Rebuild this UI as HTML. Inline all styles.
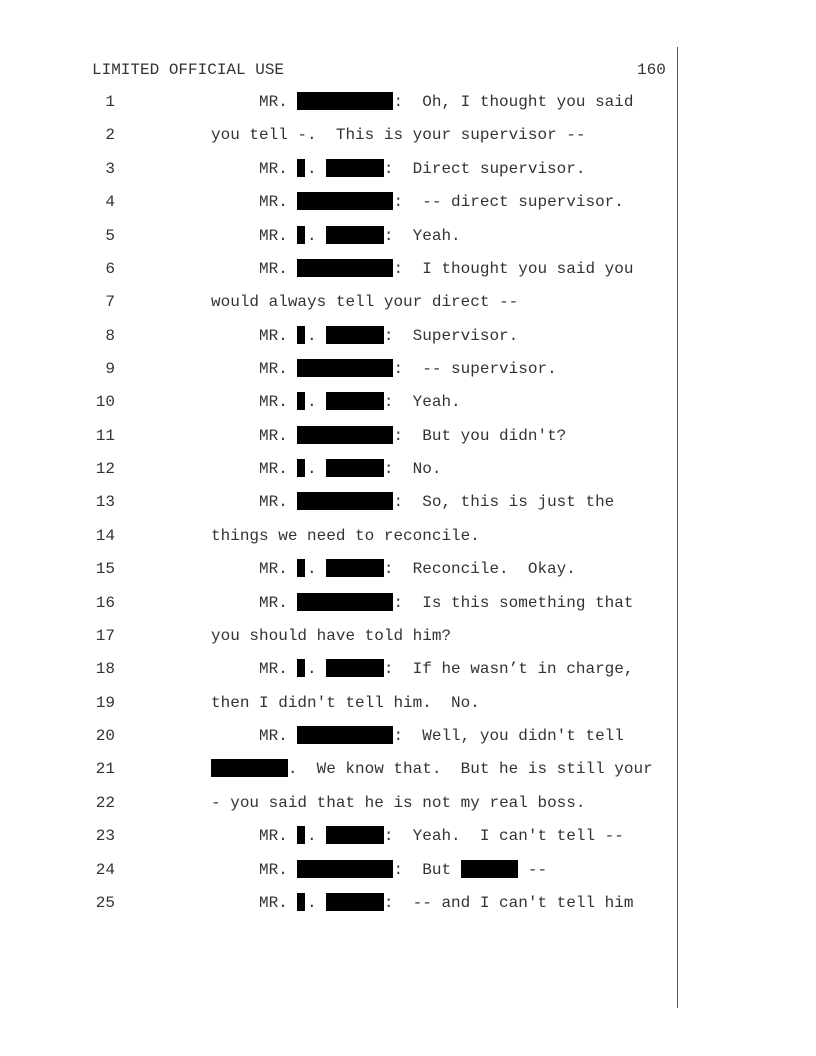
<!DOCTYPE html>
<html><head><meta charset="utf-8"><style>
body{margin:0;background:#fff;width:816px;height:1056px;position:relative;overflow:hidden}
.l{position:absolute;left:95.8px;height:20px;line-height:20px;font-family:"Liberation Mono",monospace;font-size:16px;color:#333;white-space:pre}
.b{display:inline-block;height:18px;background:#000;vertical-align:-4px}
.s{display:inline-block;width:8px;height:18px;background:#000;vertical-align:-4px;margin-right:1.6px}
.h{position:absolute;top:60px;height:20px;line-height:20px;font-family:"Liberation Mono",monospace;font-size:16px;color:#333;white-space:pre}
.v{position:absolute;left:677px;top:47px;width:1px;height:961px;background:#555}
</style></head><body>
<div class="h" style="left:92px">LIMITED OFFICIAL USE</div>
<div class="h" style="left:637px">160</div>
<div class="v"></div>
<div class="l" style="top:92px"> 1               MR. <span class="b" style="width:96px"></span>:  Oh, I thought you said</div>
<div class="l" style="top:125.4px"> 2          you tell -.  This is your supervisor --</div>
<div class="l" style="top:158.7px"> 3               MR. <span class="s"></span>. <span class="b" style="width:57.6px"></span>:  Direct supervisor.</div>
<div class="l" style="top:192.1px"> 4               MR. <span class="b" style="width:96px"></span>:  -- direct supervisor.</div>
<div class="l" style="top:225.5px"> 5               MR. <span class="s"></span>. <span class="b" style="width:57.6px"></span>:  Yeah.</div>
<div class="l" style="top:258.8px"> 6               MR. <span class="b" style="width:96px"></span>:  I thought you said you</div>
<div class="l" style="top:292.2px"> 7          would always tell your direct --</div>
<div class="l" style="top:325.6px"> 8               MR. <span class="s"></span>. <span class="b" style="width:57.6px"></span>:  Supervisor.</div>
<div class="l" style="top:359px"> 9               MR. <span class="b" style="width:96px"></span>:  -- supervisor.</div>
<div class="l" style="top:392.3px">10               MR. <span class="s"></span>. <span class="b" style="width:57.6px"></span>:  Yeah.</div>
<div class="l" style="top:425.7px">11               MR. <span class="b" style="width:96px"></span>:  But you didn't?</div>
<div class="l" style="top:459.1px">12               MR. <span class="s"></span>. <span class="b" style="width:57.6px"></span>:  No.</div>
<div class="l" style="top:492.4px">13               MR. <span class="b" style="width:96px"></span>:  So, this is just the</div>
<div class="l" style="top:525.8px">14          things we need to reconcile.</div>
<div class="l" style="top:559.2px">15               MR. <span class="s"></span>. <span class="b" style="width:57.6px"></span>:  Reconcile.  Okay.</div>
<div class="l" style="top:592.6px">16               MR. <span class="b" style="width:96px"></span>:  Is this something that</div>
<div class="l" style="top:625.9px">17          you should have told him?</div>
<div class="l" style="top:659.3px">18               MR. <span class="s"></span>. <span class="b" style="width:57.6px"></span>:  If he wasn’t in charge,</div>
<div class="l" style="top:692.7px">19          then I didn't tell him.  No.</div>
<div class="l" style="top:726px">20               MR. <span class="b" style="width:96px"></span>:  Well, you didn't tell</div>
<div class="l" style="top:759.4px">21          <span class="b" style="width:76.8px"></span>.  We know that.  But he is still your</div>
<div class="l" style="top:792.8px">22          - you said that he is not my real boss.</div>
<div class="l" style="top:826.2px">23               MR. <span class="s"></span>. <span class="b" style="width:57.6px"></span>:  Yeah.  I can't tell --</div>
<div class="l" style="top:859.5px">24               MR. <span class="b" style="width:96px"></span>:  But <span class="b" style="width:57.6px"></span> --</div>
<div class="l" style="top:892.9px">25               MR. <span class="s"></span>. <span class="b" style="width:57.6px"></span>:  -- and I can't tell him</div>
</body></html>
